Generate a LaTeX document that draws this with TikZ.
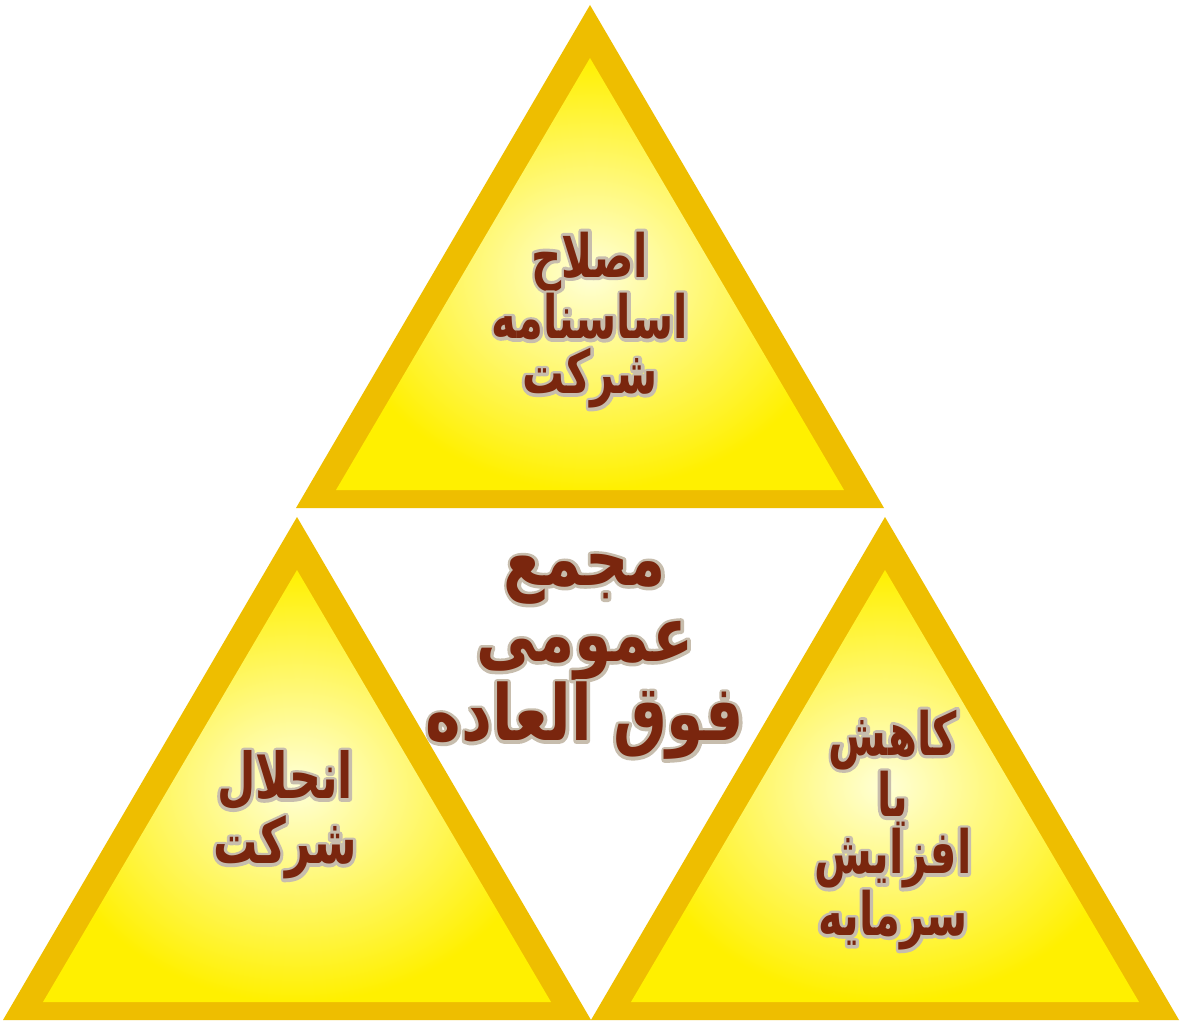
\documentclass[tikz,border=0pt]{standalone}
\usepackage{fontspec}
\newfontfamily\narrowface[Script=Arabic, FakeStretch=0.7]{DejaVu Sans}
\newfontfamily\wideface[Script=Arabic, FakeStretch=0.78]{DejaVu Sans}
\TeXXeTstate=1
\definecolor{gold}{RGB}{238,190,0}
\definecolor{lemon}{RGB}{255,240,0}
\definecolor{cream}{RGB}{255,255,215}
\definecolor{rust}{RGB}{122,38,14}
\newcommand\ftext[1]{\leavevmode\rlap{\special{pdf:literal direct 1 Tr 3.5 w 1 j 0.78 0.74 0.68 RG}\beginR #1\endR\special{pdf:literal direct 0 Tr}}\beginR #1\endR}
\tikzset{
  rim/.style={fill=gold},
  face/.style={inner color=cream, outer color=lemon},
  wording/.style={text=rust, align=center, font=\narrowface\bfseries\fontsize{34pt}{1.1cm}\selectfont},
  bigwording/.style={wording, font=\wideface\bfseries\fontsize{44pt}{1.52cm}\selectfont}
}
\begin{document}
\begin{tikzpicture}[x=0.02cm, y=-0.02cm]
      \useasboundingbox (0,0) rectangle (1180,1024);
      \fill[white] (0,0) rectangle (1180,1024);

      \foreach \ax/\ay in {590/5, 297/517, 885/517}
      {
        \fill[rim] (\ax,\ay) -- ++(-294,503) -- ++(588,0) -- cycle;
        \shade[face] (\ax,\ay+53) -- ++(-254,432) -- ++(508,0) -- cycle;
      }

      \node[wording] (amend) at (590,320) {\ftext{اصلاح}\\ \ftext{اساسنامه}\\ \ftext{شرکت}};
      \node[wording, font=\narrowface\bfseries\fontsize{36pt}{1.3cm}\selectfont] (dissolve) at (285,815) {\ftext{انحلال}\\ \ftext{شرکت}};
      \node[wording, font=\narrowface\bfseries\fontsize{34pt}{1.14cm}\selectfont] (capital) at (893,830) {\ftext{کاهش}\\ \ftext{یا}\\ \ftext{افزایش}\\ \ftext{سرمایه}};
      \node[bigwording] (assembly) at (585,657) {\ftext{مجمع}\\ \ftext{عمومی}\\ \ftext{فوق العاده}};
    \end{tikzpicture}
\end{document}
